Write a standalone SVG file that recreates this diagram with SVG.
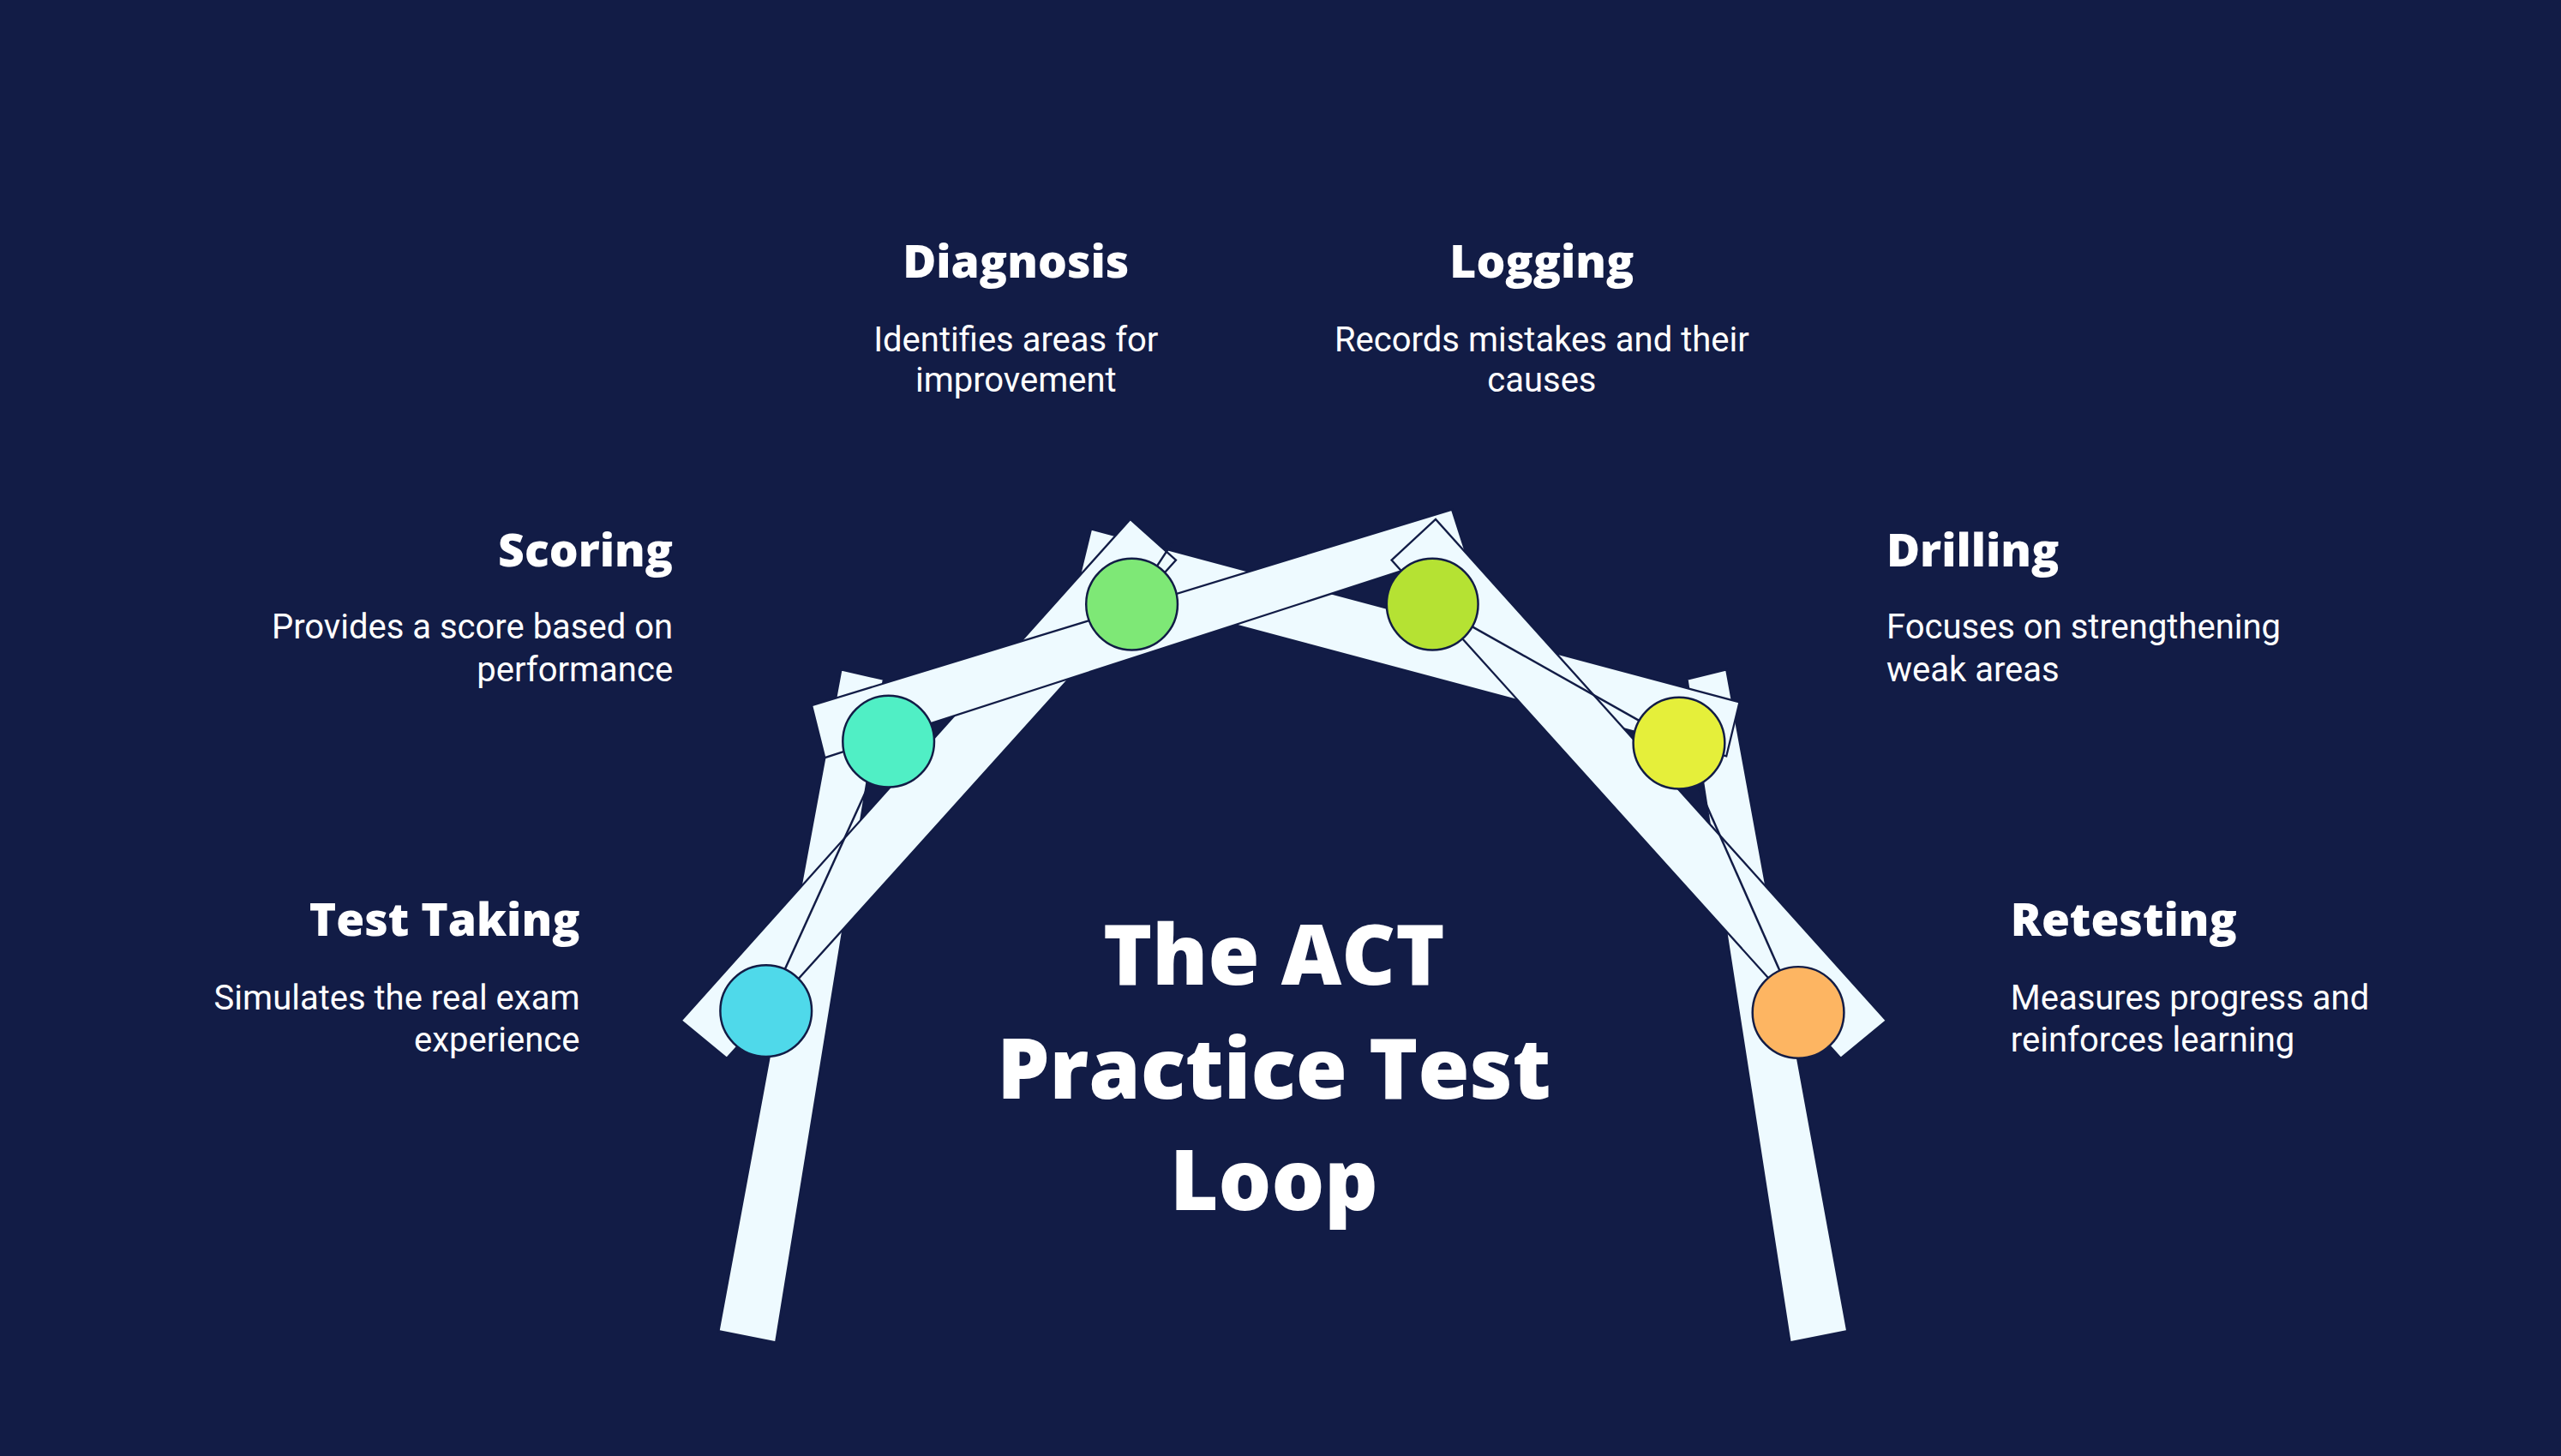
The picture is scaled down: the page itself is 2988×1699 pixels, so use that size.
<svg xmlns="http://www.w3.org/2000/svg" width="2988" height="1699" viewBox="0 0 2988 1699">
<style>
.bar{fill:#eefaff;stroke:#121c46;stroke-width:1.2}
.dot{stroke:#121c46;stroke-width:1.3}
.con{stroke:#121c46;stroke-width:1.3;fill:none}
.h{font-family:"Open Sans","Lato",sans-serif;font-weight:800;font-size:28px;fill:#fff}
.b{font-family:Roboto,"Liberation Sans",sans-serif;font-size:21px;fill:#fff}
.t{font-family:"Open Sans","Lato",sans-serif;font-weight:800;font-size:51px;fill:#fff;text-anchor:middle}
</style>
<rect width="2988" height="1699" fill="#121c46"/>
<g transform="scale(1.9056)">
<g id="bars">
<polygon class="bar" points="440,815 475,822 541,416 515,410"/>
<polygon class="bar" points="1033,416 1057,410 1131,815 1096,822"/>
<polygon class="bar" points="668,324 660,357 1057,463 1065,430"/>
<polygon class="bar" points="417,625 445,648 720,343 692,318"/>
<polygon class="bar" points="497,432 505,464 897,337 889,312"/>
<polygon class="bar" points="852,343 879,318 1155,625 1127,648"/>
</g>
<g id="connectors">
<line class="con" x1="469" y1="619" x2="544" y2="454"/>
<line class="con" x1="693" y1="370" x2="718" y2="332"/>
<line class="con" x1="877" y1="370" x2="1028" y2="455"/>
<line class="con" x1="1028" y1="455" x2="1101" y2="620"/>
</g>
<g id="n-test"><circle class="dot" cx="469" cy="619" r="28" fill="#4fd9ea"/>
<text class="h" x="355" y="573" text-anchor="end">Test Taking</text>
<text class="b" x="355" y="618" text-anchor="end">Simulates the real exam</text>
<text class="b" x="355" y="644" text-anchor="end">experience</text></g>
<g id="n-scoring"><circle class="dot" cx="544" cy="454" r="28" fill="#50efc5"/>
<text class="h" x="412" y="347" text-anchor="end">Scoring</text>
<text class="b" x="412" y="391" text-anchor="end">Provides a score based on</text>
<text class="b" x="412" y="417" text-anchor="end">performance</text></g>
<g id="n-diagnosis"><circle class="dot" cx="693" cy="370" r="28" fill="#7ee876"/>
<text class="h" x="622" y="170" text-anchor="middle">Diagnosis</text>
<text class="b" x="622" y="215" text-anchor="middle">Identifies areas for</text>
<text class="b" x="622" y="240" text-anchor="middle">improvement</text></g>
<g id="n-logging"><circle class="dot" cx="877" cy="370" r="28" fill="#b5e233"/>
<text class="h" x="944" y="170" text-anchor="middle">Logging</text>
<text class="b" x="944" y="215" text-anchor="middle">Records mistakes and their</text>
<text class="b" x="944" y="240" text-anchor="middle">causes</text></g>
<g id="n-drilling"><circle class="dot" cx="1028" cy="455" r="28" fill="#e5ef3a"/>
<text class="h" x="1155" y="347">Drilling</text>
<text class="b" x="1155" y="391">Focuses on strengthening</text>
<text class="b" x="1155" y="417">weak areas</text></g>
<g id="n-retesting"><circle class="dot" cx="1101" cy="620" r="28" fill="#fdb562"/>
<text class="h" x="1231" y="573">Retesting</text>
<text class="b" x="1231" y="618">Measures progress and</text>
<text class="b" x="1231" y="644">reinforces learning</text></g>
<g id="title">
<text class="t" x="780" y="603">The ACT</text>
<text class="t" x="780" y="673">Practice Test</text>
<text class="t" x="780" y="741">Loop</text>
</g>
</g>
</svg>
